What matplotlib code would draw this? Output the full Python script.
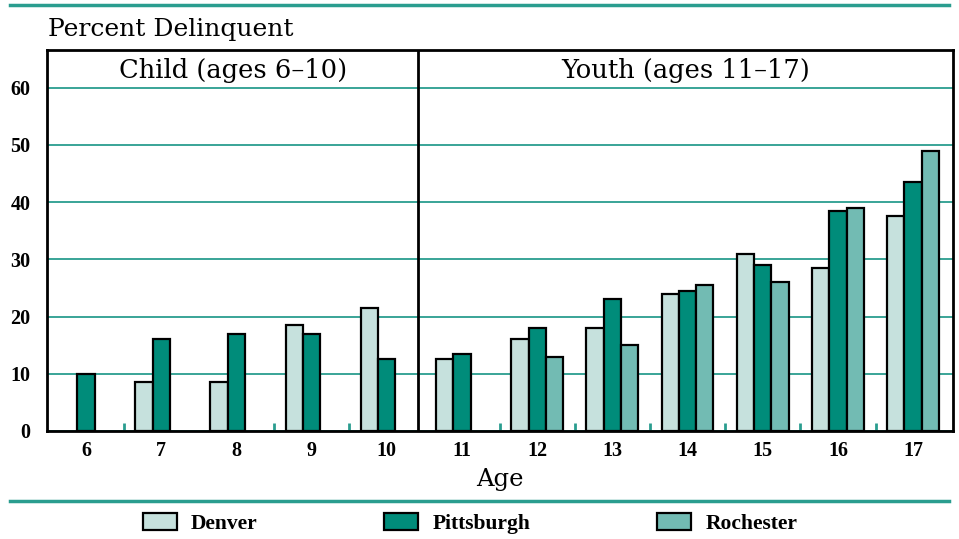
import numpy as np
import matplotlib.pyplot as plt
from matplotlib.lines import Line2D
from matplotlib.patches import Patch

# Datos (porcentaje delincuente por edad)
edades = [6, 7, 8, 9, 10, 11, 12, 13, 14, 15, 16, 17]
denver = [np.nan, 8.5, 8.5, 18.5, 21.5, 12.5, 16, 18, 24, 31, 28.5, 37.5]
pittsburgh = [10, 16, 17, 17, 12.5, 13.5, 18, 23, 24.5, 29, 38.5, 43.5]
rochester = [np.nan, np.nan, np.nan, np.nan, np.nan, np.nan, 13, 15, 25.5, 26, 39, 49]
y_ticks = [0, 10, 20, 30, 40, 50, 60]
paneles = ["Child (ages 6\u201310)", "Youth (ages 11\u201317)"]
ciudades = ["Denver", "Pittsburgh", "Rochester"]

colores = ["#c6e1dd", "#008c7a", "#72bbb3"]
teal = "#2a9d8f"
serif = "DejaVu Serif"
times = "Liberation Serif"

fig = plt.figure(figsize=(9.59, 5.39), dpi=100)
ax = fig.add_axes([0.0493, 0.2004, 0.9444, 0.7068])

x = np.array(edades, dtype=float)
ancho = 0.23
for serie, desp, color in zip([denver, pittsburgh, rochester], [-ancho, 0, ancho], colores):
    ax.bar(x + desp, serie, width=ancho, color=color, edgecolor="black", linewidth=1.6, zorder=3)

xmin, xmax, divisor = 5.485, 17.53, 10.42
ax.set_xlim(xmin, xmax)
ax.set_ylim(0, 66.6)
ax.set_yticks(y_ticks)
ax.set_xticks(edades)
ax.set_xticks([6.5, 8.5, 9.5, 11.5, 12.5, 13.5, 14.5, 15.5, 16.5], minor=True)
ax.tick_params(axis="y", length=0, pad=12)
ax.tick_params(axis="x", which="major", length=0, pad=7.5)
ax.tick_params(axis="x", which="minor", direction="in", length=6, width=2, color=teal)
for lab in ax.get_xticklabels() + ax.get_yticklabels():
    lab.set_fontfamily(times)
    lab.set_fontweight("bold")
    lab.set_fontsize(14.5)

ax.yaxis.grid(True, color=teal, linewidth=1.3, zorder=0)
for s in ax.spines.values():
    s.set_color("black")
    s.set_linewidth(2)

# Divisor entre niños y jóvenes
ax.axvline(divisor, color="black", linewidth=2, zorder=4)
ax.text((xmin + divisor) / 2, 63.1, paneles[0], ha="center", va="center",
        fontsize=18.5, family=serif, zorder=5)
ax.text((divisor + xmax) / 2, 63.1, paneles[1], ha="center", va="center",
        fontsize=18.5, family=serif, zorder=5)

ax.set_xlabel("Age", fontsize=17.5, family=serif, labelpad=5)

fig.text(0.05, 0.946, "Percent Delinquent", fontsize=18, family=serif, va="center", ha="left")

# Líneas decorativas
fig.add_artist(Line2D([0.01, 0.99], [0.991, 0.991], color=teal, linewidth=2.5))
fig.add_artist(Line2D([0.01, 0.99], [0.071, 0.071], color=teal, linewidth=2.5))

handles = [Patch(facecolor=c, edgecolor="black", linewidth=1.6) for c in colores]
fig.legend(handles, ciudades, loc="center", bbox_to_anchor=(0.49, 0.029), ncol=3,
           frameon=False, handlelength=1.58, handleheight=0.88, handletextpad=0.65,
           columnspacing=5.9, borderpad=0, prop={"family": times, "weight": "bold", "size": 15.5})

fig.savefig("out.png", dpi=100)
